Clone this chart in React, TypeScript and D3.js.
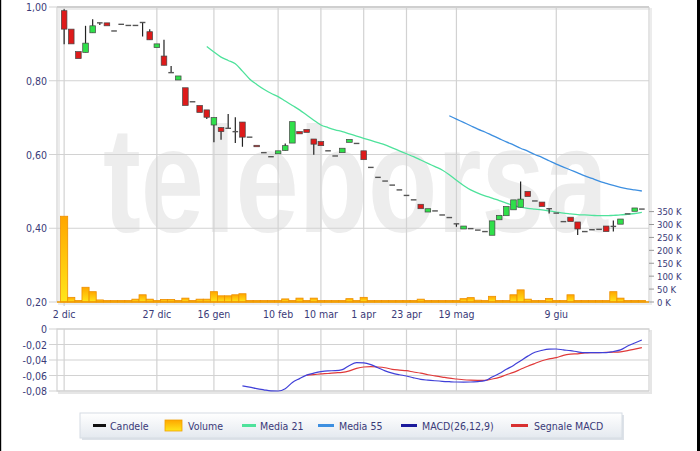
import React from 'react';
import * as d3 from 'd3';

// ---------- DATA ----------
const dateLabels = ['2 dic', '27 dic', '16 gen', '10 feb', '10 mar', '1 apr', '23 apr', '19 mag', '9 giu'];
const dateIndex = [0, 13, 21, 30, 36, 42, 48, 55, 69];

const open = [0.990, 0.940, 0.879, 0.877, 0.930, 0.957, 0.957, 0.935, 0.953, 0.950,
  0.950, 0.958, 0.933, 0.890, 0.867, 0.822, 0.802, 0.781, 0.743, 0.733,
  0.721, 0.680, 0.673, 0.671, 0.662, 0.688, 0.647, 0.625, 0.605, 0.594,
  0.602, 0.611, 0.631, 0.662, 0.668, 0.642, 0.635, 0.610, 0.596, 0.605,
  0.633, 0.630, 0.610, 0.565, 0.538, 0.528, 0.517, 0.504, 0.489, 0.477,
  0.465, 0.444, 0.447, 0.436, 0.429, 0.412, 0.398, 0.399, 0.395, 0.391,
  0.381, 0.423, 0.434, 0.450, 0.457, 0.500, 0.474, 0.471, 0.453, 0.441,
  0.418, 0.430, 0.417, 0.391, 0.396, 0.397, 0.406, 0.405, 0.411, 0.439,
  0.446, 0.452];
const high = [0.994, 0.940, 0.879, 0.949, 0.967, 0.957, 0.957, 0.935, 0.953, 0.950,
  0.950, 0.958, 0.940, 0.900, 0.911, 0.840, 0.813, 0.781, 0.743, 0.733,
  0.721, 0.700, 0.673, 0.710, 0.701, 0.688, 0.647, 0.625, 0.605, 0.594,
  0.610, 0.630, 0.689, 0.662, 0.668, 0.642, 0.635, 0.610, 0.596, 0.617,
  0.641, 0.630, 0.610, 0.565, 0.538, 0.528, 0.517, 0.504, 0.489, 0.477,
  0.465, 0.453, 0.447, 0.436, 0.429, 0.412, 0.406, 0.399, 0.395, 0.391,
  0.420, 0.435, 0.459, 0.477, 0.527, 0.500, 0.474, 0.471, 0.453, 0.441,
  0.418, 0.430, 0.417, 0.391, 0.396, 0.397, 0.406, 0.421, 0.425, 0.439,
  0.455, 0.452];
const low = [0.899, 0.900, 0.860, 0.877, 0.930, 0.951, 0.949, 0.935, 0.953, 0.950,
  0.950, 0.920, 0.911, 0.890, 0.842, 0.822, 0.802, 0.733, 0.743, 0.714,
  0.696, 0.633, 0.640, 0.671, 0.631, 0.621, 0.647, 0.621, 0.605, 0.594,
  0.602, 0.611, 0.631, 0.656, 0.660, 0.599, 0.624, 0.610, 0.596, 0.605,
  0.633, 0.630, 0.586, 0.565, 0.538, 0.528, 0.517, 0.504, 0.489, 0.477,
  0.453, 0.444, 0.447, 0.436, 0.429, 0.404, 0.398, 0.399, 0.395, 0.391,
  0.381, 0.423, 0.434, 0.450, 0.457, 0.486, 0.474, 0.459, 0.440, 0.441,
  0.418, 0.418, 0.382, 0.391, 0.396, 0.397, 0.391, 0.391, 0.411, 0.439,
  0.446, 0.452];
const close = [0.940, 0.900, 0.860, 0.902, 0.949, 0.957, 0.949, 0.935, 0.953, 0.950,
  0.950, 0.958, 0.911, 0.900, 0.842, 0.822, 0.813, 0.733, 0.743, 0.714,
  0.701, 0.700, 0.662, 0.671, 0.662, 0.647, 0.647, 0.621, 0.605, 0.594,
  0.610, 0.624, 0.689, 0.656, 0.660, 0.628, 0.624, 0.610, 0.596, 0.617,
  0.641, 0.630, 0.586, 0.565, 0.538, 0.528, 0.517, 0.504, 0.489, 0.477,
  0.453, 0.453, 0.447, 0.436, 0.429, 0.412, 0.406, 0.399, 0.395, 0.391,
  0.420, 0.435, 0.459, 0.477, 0.479, 0.486, 0.474, 0.459, 0.453, 0.441,
  0.418, 0.418, 0.398, 0.391, 0.396, 0.397, 0.391, 0.405, 0.425, 0.439,
  0.455, 0.452];

// volume in thousands
const volume = [332, 18, 2, 57, 40, 8, 1, 1, 1, 1,
  11, 28, 11, 2, 10, 10, 3, 15, 2, 11,
  11, 40, 24, 24, 28, 32, 1, 1, 1, 1,
  1, 12, 3, 15, 2, 15, 4, 1, 1, 5,
  13, 3, 18, 1, 1, 1, 1, 1, 1, 1,
  11, 6, 1, 1, 1, 4, 13, 17, 7, 2,
  22, 2, 2, 28, 47, 11, 2, 2, 14, 1,
  1, 28, 2, 2, 2, 1, 1, 40, 15, 1,
  1, 1];

const ma21Start = 20;
const ma21 = [0.893, 0.878, 0.864, 0.855, 0.846, 0.826, 0.805, 0.790, 0.777, 0.766,
  0.757, 0.745, 0.733, 0.721, 0.707, 0.693, 0.680, 0.673, 0.667, 0.662,
  0.656, 0.650, 0.644, 0.638, 0.632, 0.626, 0.618, 0.610, 0.602, 0.594,
  0.585, 0.576, 0.567, 0.558, 0.545, 0.530, 0.516, 0.504, 0.495, 0.488,
  0.482, 0.475, 0.468, 0.462, 0.457, 0.454, 0.452, 0.450, 0.447, 0.444,
  0.441, 0.439, 0.437, 0.436, 0.435, 0.434, 0.434, 0.435, 0.436, 0.438,
  0.440, 0.443];

const ma55Start = 54;
const ma55 = [0.705, 0.696, 0.687, 0.678, 0.669, 0.661, 0.652, 0.643, 0.634, 0.626,
  0.617, 0.609, 0.600, 0.592, 0.583, 0.574, 0.566, 0.558, 0.550, 0.542,
  0.535, 0.528, 0.522, 0.516, 0.511, 0.507, 0.504, 0.501];

const macdStart = 25;
const macd = [-0.0735, -0.075, -0.077, -0.0785, -0.0798, -0.080, -0.077, -0.069, -0.064, -0.0595,
  -0.057, -0.055, -0.054, -0.0538, -0.0525, -0.047, -0.0435, -0.0438, -0.046, -0.050,
  -0.054, -0.057, -0.059, -0.0606, -0.063, -0.065, -0.066, -0.0668, -0.0675, -0.068,
  -0.0684, -0.0685, -0.0684, -0.0678, -0.0667, -0.062, -0.0575, -0.052, -0.047, -0.041,
  -0.035, -0.030, -0.0275, -0.026, -0.0258, -0.027, -0.028, -0.0295, -0.0305, -0.0306,
  -0.0306, -0.0306, -0.029, -0.027, -0.022, -0.018, -0.0142];

const signalStart = 34;
const signal = [-0.0594, -0.0588, -0.058, -0.0574, -0.0566, -0.056, -0.054, -0.0508, -0.049, -0.0486,
  -0.049, -0.050, -0.052, -0.053, -0.0538, -0.0555, -0.057, -0.059, -0.0605, -0.062,
  -0.0635, -0.0645, -0.0655, -0.066, -0.0662, -0.0662, -0.0645, -0.0624, -0.059, -0.056,
  -0.052, -0.048, -0.0445, -0.041, -0.0385, -0.037, -0.034, -0.0325, -0.032, -0.031,
  -0.0306, -0.0304, -0.0302, -0.030, -0.0295, -0.028, -0.026, -0.024];

const priceTicks = [0.2, 0.4, 0.6, 0.8, 1.0];
const volumeTicks = [0, 50, 100, 150, 200, 250, 300, 350];
const macdTicks = [0, -0.02, -0.04, -0.06, -0.08];

const legendLabels = ['Candele', 'Volume', 'Media 21', 'Media 55', 'MACD(26,12,9)', 'Segnale MACD'];

// ---------- STYLE ----------
const FONT = "Tahoma, 'DejaVu Sans Condensed', 'DejaVu Sans', sans-serif";
const TXT = '#3a3a78';
const GRID = '#d2d2d2';

const fmtDec = (v: number) => (v < 0 ? '-' : '') + Math.abs(v).toFixed(2).replace('.', ',');

export default function App() {
  const L = 57, R = 649, T = 7, B = 302;
  const MT = 329, MB = 391;
  const x = d3.scaleLinear().domain([-1, 82]).range([L, R]);
  const step = x(1) - x(0);
  const yP = d3.scaleLinear().domain([0.2, 1.0]).range([B, T]);
  const yV = d3.scaleLinear().domain([0, 350]).range([B, 211.6]);
  const yM = d3.scaleLinear().domain([-0.08, 0]).range([MB, MT]);

  const lineFrom = (start: number, ys: (v: number) => number) =>
    d3.line<number>().x((_, k) => x(start + k)).y((d) => ys(d)).curve(d3.curveMonotoneX);

  const bodyW = 5.6;

  const legendItems = [
    { kind: 'line', color: '#111111', x0: 93, x1: 106, tx: 110 },
    { kind: 'box', color: '', x0: 165, x1: 182, tx: 188 },
    { kind: 'line', color: '#4ee29b', x0: 242, x1: 256, tx: 260 },
    { kind: 'line', color: '#3d8fe0', x0: 318, x1: 334, tx: 339 },
    { kind: 'line', color: '#1a1a9c', x0: 401, x1: 417, tx: 422 },
    { kind: 'line', color: '#d83030', x0: 511, x1: 528, tx: 534 },
  ];

  return (
    <svg width={700} height={451} style={{ position: 'absolute', left: 0, top: 0, background: '#fff' }}
      fontFamily={FONT}>
      <defs>
        <linearGradient id="volGrad" x1="0" y1="0" x2="0" y2="1">
          <stop offset="0%" stopColor="#ffa600" />
          <stop offset="100%" stopColor="#ffe61a" />
        </linearGradient>
        <linearGradient id="legGrad" x1="0" y1="0" x2="0" y2="1">
          <stop offset="0%" stopColor="#ffffff" />
          <stop offset="100%" stopColor="#e4e9ef" />
        </linearGradient>
        <clipPath id="mainClip"><rect x={L} y={T} width={R - L} height={B - T + 2} /></clipPath>
      </defs>
      <rect x={0} y={0} width={700} height={451} fill="#fff" />
      {/* outer borders */}
      <rect x={0} y={0} width={1.2} height={451} fill="#000" />
      <rect x={697} y={0} width={3} height={451} fill="#000" />

      {/* watermark */}
      <text transform="translate(103,232) scale(0.757,1)" fontFamily="'Liberation Sans', Arial, sans-serif"
        fontWeight="bold" fontSize={150} fill="#ededed">teleborsa</text>

      {/* main plot frame shadow */}
      <rect x={L + 2} y={T + 2} width={R - L} height={B - T} fill="none" stroke="#ececec" strokeWidth={2} />
      {/* horizontal grid */}
      {priceTicks.map((t) => (
        <g key={'pg' + t}>
          <line x1={L - 8} x2={R} y1={yP(t)} y2={yP(t)} stroke={GRID} strokeWidth={1.2} />
          <text x={47} y={yP(t) + 4} textAnchor="end" fontSize={10.5} fill={TXT}>{fmtDec(t)}</text>
        </g>
      ))}
      {/* vertical grid */}
      {dateIndex.map((i, k) => (
        <g key={'vg' + k}>
          <line x1={x(i)} x2={x(i)} y1={T} y2={B + 4} stroke={GRID} strokeWidth={1.2} />
          <text x={x(i)} y={318} textAnchor="middle" fontSize={10.5} fill={TXT}>{dateLabels[k]}</text>
        </g>
      ))}
      <line x1={L} x2={L} y1={T} y2={B} stroke={GRID} strokeWidth={1.2} />
      <line x1={R} x2={R} y1={T} y2={B} stroke={GRID} strokeWidth={1.2} />
      <line x1={L} x2={R} y1={T} y2={T} stroke="#cfcfcf" strokeWidth={2} />

      {/* volume bars */}
      <g clipPath="url(#mainClip)">
        {volume.map((v, i) => {
          const top = Math.min(yV(v), B - 1.5);
          return (
            <rect key={'v' + i} x={x(i) - step / 2} y={top} width={step} height={B - top}
              fill="url(#volGrad)" stroke="#ee9000" strokeWidth={0.8} />
          );
        })}
      </g>
      <line x1={L} x2={R} y1={B} y2={B} stroke="#f09a00" strokeWidth={1.5} />

      {/* right volume axis */}
      {volumeTicks.map((t) => (
        <g key={'vt' + t}>
          <line x1={R} x2={R + 5} y1={yV(t)} y2={yV(t)} stroke="#999" strokeWidth={1} />
          <text x={657} y={yV(t) + 3.5} fontSize={9.5} fill={TXT}>{t + ' K'}</text>
        </g>
      ))}

      {/* moving averages */}
      <path d={lineFrom(ma21Start, yP)(ma21) || ''} fill="none" stroke="#4ee29b" strokeWidth={1.3} />
      <path d={lineFrom(ma55Start, yP)(ma55) || ''} fill="none" stroke="#3d8fe0" strokeWidth={1.3} />

      {/* candles */}
      {open.map((o, i) => {
        const c = close[i];
        const cx = x(i);
        const flat = Math.abs(o - c) < 0.0005;
        const up = c > o;
        const top = yP(Math.max(o, c));
        const bot = yP(Math.min(o, c));
        return (
          <g key={'c' + i}>
            {(high[i] > Math.max(o, c) + 0.0005 || low[i] < Math.min(o, c) - 0.0005) && (
              <line x1={cx} x2={cx} y1={yP(high[i])} y2={yP(low[i])} stroke="#222" strokeWidth={1.2} />
            )}
            {flat ? (
              <line x1={cx - bodyW / 2} x2={cx + bodyW / 2} y1={top} y2={top} stroke="#555" strokeWidth={1.4} />
            ) : (
              <rect x={cx - bodyW / 2} y={top} width={bodyW} height={Math.max(bot - top, 1)}
                fill={up ? '#2fe04a' : '#de1a1a'} stroke="#444" strokeWidth={0.7} />
            )}
          </g>
        );
      })}

      {/* MACD panel */}
      <rect x={L + 2} y={MT + 2} width={R - L} height={MB - MT} fill="none" stroke="#e6e6e6" strokeWidth={2} />
      <rect x={L} y={MT} width={R - L} height={MB - MT} fill="#fff" stroke={GRID} strokeWidth={1.2} />
      {macdTicks.map((t) => (
        <g key={'mt' + t}>
          <line x1={L - 8} x2={R} y1={yM(t)} y2={yM(t)} stroke={GRID} strokeWidth={1.2} />
          <text x={47} y={yM(t) + 4} textAnchor="end" fontSize={10.5} fill={TXT}>{t === 0 ? '0' : fmtDec(t)}</text>
        </g>
      ))}
      {dateIndex.map((i, k) => (
        <line key={'mv' + k} x1={x(i)} x2={x(i)} y1={MT} y2={MB} stroke={GRID} strokeWidth={1.2} />
      ))}
      <path d={lineFrom(signalStart, yM)(signal) || ''} fill="none" stroke="#e03a3a" strokeWidth={1.2} />
      <path d={lineFrom(macdStart, yM)(macd) || ''} fill="none" stroke="#4040d8" strokeWidth={1.2} />

      {/* legend */}
      <rect x={82} y={415} width={542} height={25} fill="#dde2e8" />
      <rect x={80} y={413} width={542} height={25} fill="url(#legGrad)" stroke="#d6dce3" strokeWidth={1} />
      {legendItems.map((it, k) => (
        <g key={'lg' + k}>
          {it.kind === 'line' ? (
            <line x1={it.x0} x2={it.x1} y1={425.5} y2={425.5} stroke={it.color} strokeWidth={3} />
          ) : (
            <rect x={it.x0} y={420} width={it.x1 - it.x0} height={11} fill="url(#volGrad)" stroke="#f0a000" strokeWidth={0.8} />
          )}
          <text x={it.tx} y={429.5} fontSize={10.5} fill={TXT}>{legendLabels[k]}</text>
        </g>
      ))}
    </svg>
  );
}
